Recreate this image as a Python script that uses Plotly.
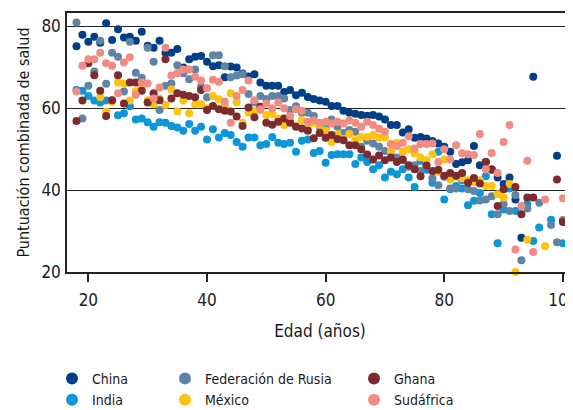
import plotly.graph_objects as go

AGES = list(range(18, 101))

CHINA = [75.2, 78.0, 76.3, 77.5, 76.0, 80.8, 76.7, 79.3, 77.3, 77.5,
         76.5, 78.7, 75.3, 74.8, 76.5, 73.6, 73.6, 74.5, 70.0, 72.0,
         72.6, 72.8, 71.4, 70.3, 70.5, 67.6, 70.2, 70.0, 68.5, 67.8,
         68.3, 66.3, 65.5, 65.5, 65.5, 64.0, 64.5, 63.2, 63.8, 62.8,
         62.3, 61.9, 61.6, 60.6, 60.6, 59.4, 58.9, 58.7, 58.4, 58.2,
         58.4, 58.0, 57.3, 55.9, 55.9, 54.1, 54.9, 52.8, 53.0, 52.6,
         52.0, 51.4, 50.6, 49.4, 46.4, 46.8, 47.3, 50.8, 46.1, 46.9,
         45.0, 43.1, 41.5, 43.1, 37.7, 28.4, None, 67.7, None, None,
         None, 48.4, None]

RUSIA = [81.0, 57.5, 65.5, 69.0, 76.5, 66.0, 73.6, 72.6, 64.1, 76.3,
         68.7, 67.5, 74.8, 71.4, 59.6, 65.5, 66.1, 70.5, 68.6, 67.1,
         69.5, 65.3, 62.7, 73.0, 73.0, 70.3, 67.6, 68.0, 68.3, 63.5,
         61.5, 63.0, 62.3, 63.0, 63.0, 62.4, 59.6, 60.5, 58.9, 58.9,
         58.1, 55.5, 55.0, 57.3, 55.5, 54.0, 54.7, 54.3, 50.6, 52.1,
         51.4, 50.6, 49.6, 49.4, 48.0, 47.3, 45.7, 46.1, 44.7, 46.1,
         42.9, 41.2, 43.3, 40.4, 40.4, 42.4, 40.2, 39.8, 37.5, 37.7,
         38.5, 34.1, 36.6, 34.9, 38.8, 22.9, 35.5, None, 36.9, None,
         31.5, 27.3, 32.7]

INDIA = [64.5, 64.3, 63.0, 61.9, 61.4, 61.9, 61.9, 58.3, 58.8, 60.5,
         57.3, 57.5, 56.6, 55.5, 56.6, 56.5, 55.7, 55.3, 54.5, 56.2,
         54.5, 55.5, 52.4, 54.9, 52.9, 54.0, 53.5, 51.8, 50.6, 52.9,
         52.9, 51.0, 51.3, 53.0, 51.6, 51.3, 51.6, 49.4, 52.1, 52.4,
         49.1, 49.6, 46.7, 48.6, 48.8, 48.8, 48.8, 46.4, 48.0, 46.9,
         45.1, 46.1, 43.1, 44.5, 43.9, 45.1, 43.1, 40.8, 47.2, 45.0,
         41.8, 49.4, 37.7, 40.2, 41.0, 40.4, 36.3, 37.4, 39.3, 43.4,
         34.1, 27.0, 35.3, 40.4, 34.9, None, 36.7, 27.6, 30.9, None,
         32.8, None, 27.0]

MEXICO = [None, None, None, None, 62.7, 59.2, 61.6, 66.3, 66.1, 61.9,
          64.1, 65.3, 62.0, 61.0, 62.4, 60.8, 64.6, 59.2, 61.9, 58.8,
          61.0, 61.0, 60.0, 63.0, 62.2, 60.6, 63.7, 61.4, 56.5, 58.9,
          59.4, 59.6, 58.4, 58.6, 57.5, 55.9, 57.0, 55.7, 57.1, 55.3,
          56.5, 56.0, 54.5, 51.8, 53.7, 52.5, 53.7, 52.2, 53.0, 53.0,
          53.5, 52.9, 52.9, 49.6, 51.5, 49.4, 50.0, 49.0, 48.0, 47.3,
          48.8, 44.5, 47.5, 42.6, 43.3, 43.0, 42.4, 42.0, 42.4, 41.0,
          41.0, 39.0, 38.2, 41.5, 20.0, None, 27.9, None, None, 26.3,
          None, None, None]

GHANA = [56.9, 61.9, 71.0, 68.1, 64.3, 58.1, 62.0, 68.1, 61.2, 66.3,
         66.3, 64.3, 61.4, 63.7, 62.0, 72.0, 62.4, 63.7, 63.3, 63.0,
         62.7, 64.5, 59.6, 60.6, 59.8, 59.4, 59.2, 58.0, 55.7, 60.2,
         57.8, 60.4, 56.5, 56.0, 56.7, 57.5, 56.5, 55.5, 55.1, 54.5,
         52.7, 54.0, 52.8, 53.5, 52.5, 52.2, 51.0, 51.0, 50.0, 48.7,
         47.5, 48.5, 47.3, 48.0, 46.9, 47.5, 46.1, 45.1, 43.4, 46.0,
         44.7, 45.0, 43.5, 44.2, 43.5, 44.2, 41.8, 43.0, 41.6, 46.9,
         45.1, 36.1, 40.2, None, 40.8, 34.1, 38.2, 38.2, None, None,
         None, 42.6, 32.2]

SUDAFRICA = [64.1, 70.4, 72.0, 72.0, 73.6, 71.0, 70.4, 63.7, 71.2, 72.5,
             63.3, 66.3, 66.1, 62.4, 65.1, 74.8, 68.0, 68.6, 69.5, 69.5,
             67.7, 66.8, 64.9, 67.0, 66.5, 61.6, 56.5, 63.0, 64.5, 66.8,
             62.0, 59.8, 61.2, 60.0, 61.4, 60.0, 58.1, 59.8, 59.4, 56.7,
             57.1, 56.5, 56.7, 56.3, 56.7, 56.3, 57.0, 56.5, 55.5, 56.7,
             55.9, 55.0, 54.3, 51.3, 50.8, 51.6, 53.2, 50.2, 51.3, 51.3,
             51.4, 46.9, 50.0, 47.5, 51.0, 49.0, 48.8, 48.6, 53.7, 45.1,
             49.1, 44.2, 51.8, 55.9, 25.5, 36.1, 47.2, 24.9, None, 37.7,
             None, None, 38.0]

X_TICKS = [20, 40, 60, 80, 100]
Y_TICKS = [20, 40, 60, 80]

FONT = "Liberation Sans Narrow, DejaVu Sans Condensed, Arial Narrow, Roboto, sans-serif"

series = [
    ("China", CHINA, "#003f87", "legend"),
    ("India", INDIA, "#0a96d8", "legend"),
    ("Federación de Rusia", RUSIA, "#5e85a5", "legend2"),
    ("México", MEXICO, "#fdc30f", "legend2"),
    ("Ghana", GHANA, "#7d2b2f", "legend3"),
    ("Sudáfrica", SUDAFRICA, "#f28b82", "legend3"),
]

fig = go.Figure()
for name, vals, color, leg in series:
    fig.add_trace(go.Scatter(
        x=AGES, y=vals, mode="markers", name=name, legend=leg,
        marker=dict(size=8, color=color, line=dict(width=0)),
        cliponaxis=False,
    ))

# The page places the figure 8px in from the top-left corner (body margin),
# so the figure is 8px smaller and margins are 8px tighter.
OFF = 8
W, H = 573 - OFF, 410 - OFF
L, R, T, B = 67 - OFF, 0, 13 - OFF, 410 - 272
pw = W - L - R
ph = H - T - B


def px_x(p):
    return (p - OFF - L) / pw


def px_y(p):
    return (H - B - (p - OFF)) / ph


legend_common = dict(
    orientation="v", yanchor="top", xanchor="left",
    font=dict(family=FONT, size=14, color="#1a1a1a"),
    bgcolor="rgba(0,0,0,0)", borderwidth=0, tracegroupgap=0,
    itemsizing="constant",
)

fig.update_layout(
    width=W, height=H,
    margin=dict(l=L, r=R, t=T, b=B, autoexpand=False),
    paper_bgcolor="white", plot_bgcolor="white",
    font=dict(family=FONT, size=16, color="#1a1a1a"),
    showlegend=True,
    legend=dict(x=px_x(52), y=px_y(363), **legend_common),
    legend2=dict(x=px_x(165), y=px_y(363), **legend_common),
    legend3=dict(x=px_x(354), y=px_y(363), **legend_common),
    xaxis=dict(
        range=[16.4, 101.7], tickvals=X_TICKS, automargin=False,
        showgrid=False, zeroline=False,
        showline=True, linecolor="#222", linewidth=1.5, mirror=True,
        ticks="outside", ticklen=8, tickwidth=1.5, tickcolor="#222",
        ticklabelstandoff=4, ticklabeloverflow="allow",
        tickfont=dict(family=FONT, size=17, color="#1a1a1a"),
        title=dict(text="Edad (años)", font=dict(family=FONT, size=17, color="#1a1a1a"), standoff=16),
    ),
    yaxis=dict(
        range=[20, 83.3], tickvals=Y_TICKS, automargin=False,
        showgrid=True, gridcolor="#222", gridwidth=1.2, zeroline=False,
        showline=True, linecolor="#222", linewidth=1.5,
        ticks="", ticklabelstandoff=1,
        tickfont=dict(family=FONT, size=17, color="#1a1a1a"),
        title=dict(text="Puntuación combinada de salud", font=dict(family=FONT, size=16, color="#1a1a1a"), standoff=8),
    ),
)

fig.write_html("out.html")
